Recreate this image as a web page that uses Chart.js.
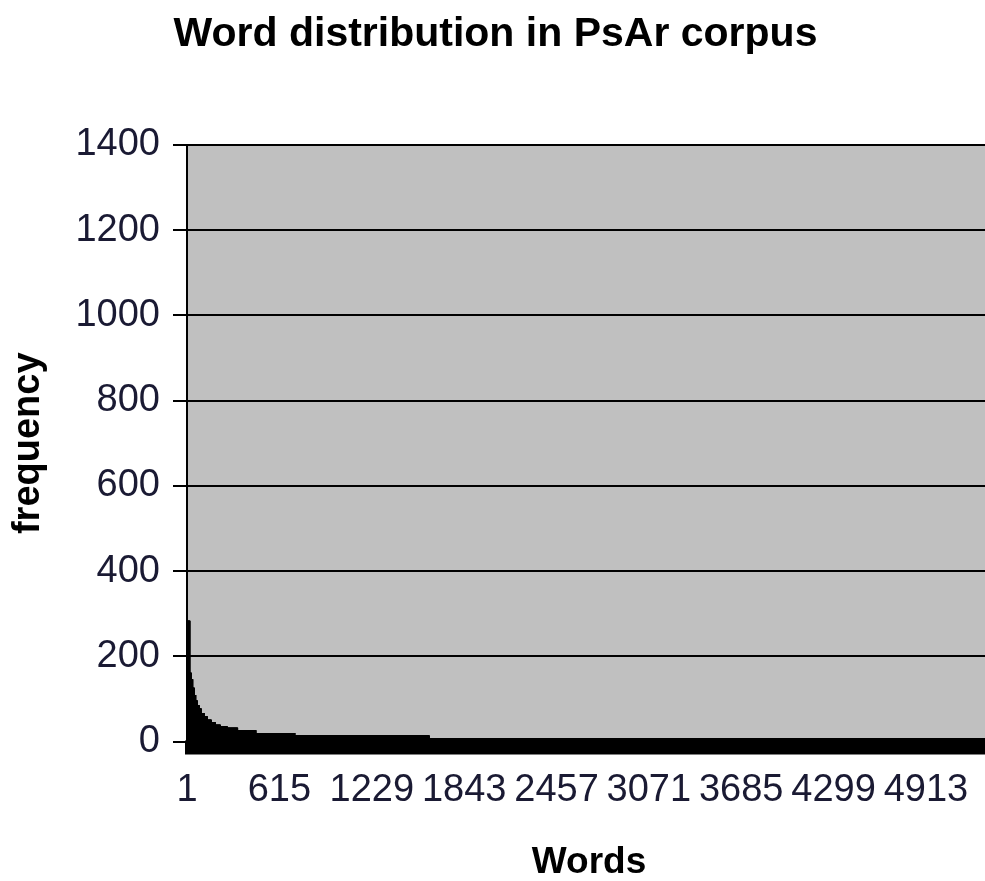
<!DOCTYPE html>
<html lang="en">
<head>
  <meta charset="UTF-8" />
  <title>Word distribution in PsAr corpus</title>
  <script src="https://cdn.jsdelivr.net/npm/chart.js"></script>
  <style>
    html, body {
      margin: 0;
      padding: 0;
      background: #fff;
      overflow: hidden;
    }

    #wrap {
      width: 995px;
      height: 881px;
    }
  </style>
</head>
<body>
  <div id="wrap"><canvas id="wordChart" width="995" height="881"></canvas></div>

  <script>
    // frequency spectrum: runWords[i] words share the frequency runFreq[i]
    const runFreq  = [282, 160, 145, 125, 108, 95, 84, 76, 66, 58, 50, 44, 38, 34, 31, 25, 19, 13, 7];
    const runWords = [20, 9, 10, 10, 10, 10, 13, 13, 20, 20, 27, 27, 33, 47, 68, 122, 259, 893, 3734];

    const xTickLabels = ['1', '615', '1229', '1843', '2457', '3071', '3685', '4299', '4913'];
    const yTicks = [0, 200, 400, 600, 800, 1000, 1200, 1400];

    // one bar per word, sorted by rank
    const frequencies = [];
    runFreq.forEach((f, i) => {
      for (let k = 0; k < runWords[i]; k++) frequencies.push(f);
    });
    const ranks = frequencies.map((_, i) => String(i + 1));

    const FONT = "'Liberation Sans', Arial, sans-serif";
    const TICK_COLOR = '#1a1a33';

    const plotBackground = {
      id: 'plotBackground',
      beforeDraw(chart) {
        const { ctx, chartArea: a } = chart;
        ctx.save();
        ctx.fillStyle = '#c0c0c0';
        ctx.fillRect(a.left, a.top, a.right - a.left, a.bottom - a.top);
        ctx.restore();
      },
      // thick black category axis under the bars, like the Excel original
      afterDatasetsDraw(chart) {
        const { ctx, chartArea: a } = chart;
        ctx.save();
        ctx.fillStyle = '#000';
        ctx.fillRect(a.left - 2, a.bottom - 1, a.right - a.left + 2, 14);
        ctx.restore();
      }
    };

    new Chart(document.getElementById('wordChart'), {
      type: 'bar',
      data: {
        labels: ranks,
        datasets: [{
          label: 'frequency',
          data: frequencies,
          backgroundColor: '#000',
          borderWidth: 0,
          barPercentage: 1,
          categoryPercentage: 1,
          inflateAmount: 0.5
        }]
      },
      options: {
        responsive: false,
        animation: false,
        devicePixelRatio: 1,
        events: [],
        layout: { padding: { left: 0, right: 4, top: 0, bottom: 0 } },
        plugins: {
          legend: { display: false },
          tooltip: { enabled: false },
          title: {
            display: true,
            text: 'Word distribution in PsAr corpus',
            color: '#000',
            font: { family: FONT, size: 41, weight: 'bold' },
            padding: { top: 10, bottom: 85.8 }
          }
        },
        scales: {
          x: {
            type: 'category',
            offset: true,
            // tickLength only pushes the labels down; no marks are drawn
            grid: { display: false, drawTicks: true, tickLength: 26 },
            border: { display: false },
            ticks: {
              autoSkip: false,
              maxRotation: 0,
              minRotation: 0,
              padding: 0,
              color: TICK_COLOR,
              font: { family: FONT, size: 38 },
              callback: (value, index) => xTickLabels.includes(ranks[index]) ? ranks[index] : ''
            },
            title: {
              display: true,
              text: 'Words',
              color: '#000',
              font: { family: FONT, size: 37, weight: 'bold', lineHeight: 1 },
              padding: { top: 0, bottom: 0 }
            },
            afterFit: scale => { scale.height = 881 - 741.5; }
          },
          y: {
            min: yTicks[0],
            max: yTicks[yTicks.length - 1],
            afterBuildTicks: scale => { scale.ticks = yTicks.map(v => ({ value: v })); },
            grid: { color: '#000', lineWidth: 2, tickLength: 14, tickColor: '#000', tickWidth: 2 },
            border: { display: true, color: '#000', width: 2 },
            ticks: {
              padding: 13,
              color: TICK_COLOR,
              font: { family: FONT, size: 38 },
              callback: value => String(value)
            },
            title: {
              display: true,
              text: 'frequency',
              color: '#000',
              font: { family: FONT, size: 38, weight: 'bold' },
              padding: { top: 6, bottom: 0 }
            },
            afterFit: scale => { scale.width = 187; }
          }
        }
      },
      plugins: [plotBackground]
    });
  </script>
</body>
</html>
